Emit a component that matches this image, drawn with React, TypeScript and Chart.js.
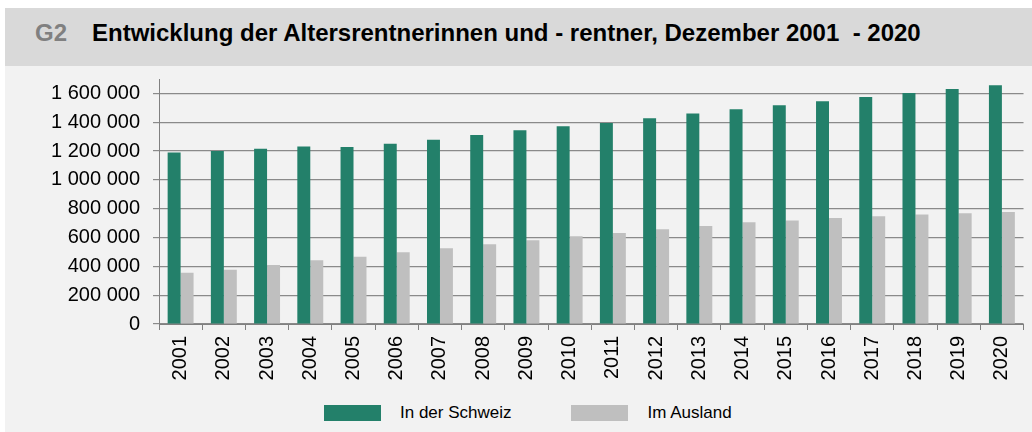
import React, { useEffect, useRef } from "react";
import { Chart, registerables } from "chart.js";

Chart.register(...registerables);

const years = ["2001","2002","2003","2004","2005","2006","2007","2008","2009","2010","2011","2012","2013","2014","2015","2016","2017","2018","2019","2020"];
const inSwitzerland = [1190000,1200000,1216000,1232000,1228000,1250000,1278000,1312000,1345000,1372000,1395000,1428000,1460000,1490000,1517000,1545000,1575000,1602000,1630000,1657000];
const abroad = [356000,377000,409000,443000,466000,497000,526000,554000,581000,609000,632000,657000,680000,706000,719000,735000,747000,759000,768000,777000];
const yTicks = [0,200000,400000,600000,800000,1000000,1200000,1400000,1600000];
const seriesNames = ["In der Schweiz", "Im Ausland"];
const title = "Entwicklung der Altersrentnerinnen und - rentner, Dezember 2001  - 2020";

const GREEN = "#23806a";
const GRAY = "#bfbfbf";
const FONT = "'Liberation Sans', Arial, sans-serif";

function fmt(v: number) {
  return String(v).replace(/\B(?=(\d{3})+(?!\d))/g, " ");
}

export default function App() {
  const ref = useRef<HTMLCanvasElement>(null);
  useEffect(() => {
    if (!ref.current) return;
    const chart = new Chart(ref.current, {
      type: "bar",
      data: {
        labels: years,
        datasets: [
          { label: seriesNames[0], data: inSwitzerland, backgroundColor: GREEN, borderWidth: 0, categoryPercentage: 0.6, barPercentage: 1 },
          { label: seriesNames[1], data: abroad, backgroundColor: GRAY, borderWidth: 0, categoryPercentage: 0.6, barPercentage: 1 },
        ],
      },
      options: {
        animation: false,
        responsive: false,
        maintainAspectRatio: false,
        layout: { padding: { top: 0, right: 4, left: 0, bottom: 0 } },
        plugins: { legend: { display: false }, tooltip: { enabled: false }, title: { display: false } },
        scales: {
          x: {
            offset: true,
            grid: { display: true, drawOnChartArea: false, drawTicks: true, tickLength: 6, color: "#808080", offset: true },
            border: { display: true, color: "#808080", width: 1 },
            ticks: { color: "#000", font: { family: FONT, size: 20 }, minRotation: 90, maxRotation: 90, padding: 6, autoSkip: false },
            afterFit: (s: any) => { s.height = 72; },
          },
          y: {
            min: 0,
            max: 1700000,
            afterBuildTicks: (s: any) => { s.ticks = yTicks.map((v) => ({ value: v })); },
            grid: { color: "#8a8a8a", lineWidth: 1.2, tickLength: 6, drawTicks: true },
            border: { display: true, color: "#808080", width: 1 },
            ticks: { color: "#000", font: { family: FONT, size: 20 }, padding: 13, callback: (v: any) => fmt(Number(v)) },
            afterFit: (s: any) => { s.width = 159; },
          },
        },
      },
    });
    return () => chart.destroy();
  }, []);

  return (
    <div style={{ position: "absolute", left: 0, top: 0, width: 1032, height: 432, background: "#fff", overflow: "hidden", fontFamily: FONT }}>
      <div style={{ position: "absolute", left: 5, top: 66, width: 1027, height: 366, background: "#f2f2f2" }} />
      <canvas ref={ref} width={1032} height={342} style={{ position: "absolute", left: 0, top: 54, width: 1032, height: 342 }} />
      <div style={{ position: "absolute", left: 5, top: 8, width: 1027, height: 58, background: "#d9d9d9", zIndex: 2 }}>
        <div style={{ position: "absolute", left: 30, top: 11, fontSize: 24, fontWeight: "bold", color: "#808080", lineHeight: "28px", whiteSpace: "pre" }}>G2</div>
        <div style={{ position: "absolute", left: 87, top: 11, fontSize: 24, fontWeight: "bold", color: "#000", lineHeight: "28px", whiteSpace: "pre" }}>{title}</div>
      </div>
      <div style={{ position: "absolute", left: 324, top: 405, height: 16, display: "flex", alignItems: "center", fontSize: 17, color: "#000", whiteSpace: "nowrap" }}>
        <span style={{ display: "inline-block", width: 57, height: 16, background: GREEN }} />
        <span style={{ marginLeft: 19 }}>{seriesNames[0]}</span>
        <span style={{ display: "inline-block", width: 57, height: 16, background: GRAY, marginLeft: 59 }} />
        <span style={{ marginLeft: 20 }}>{seriesNames[1]}</span>
      </div>
    </div>
  );
}
